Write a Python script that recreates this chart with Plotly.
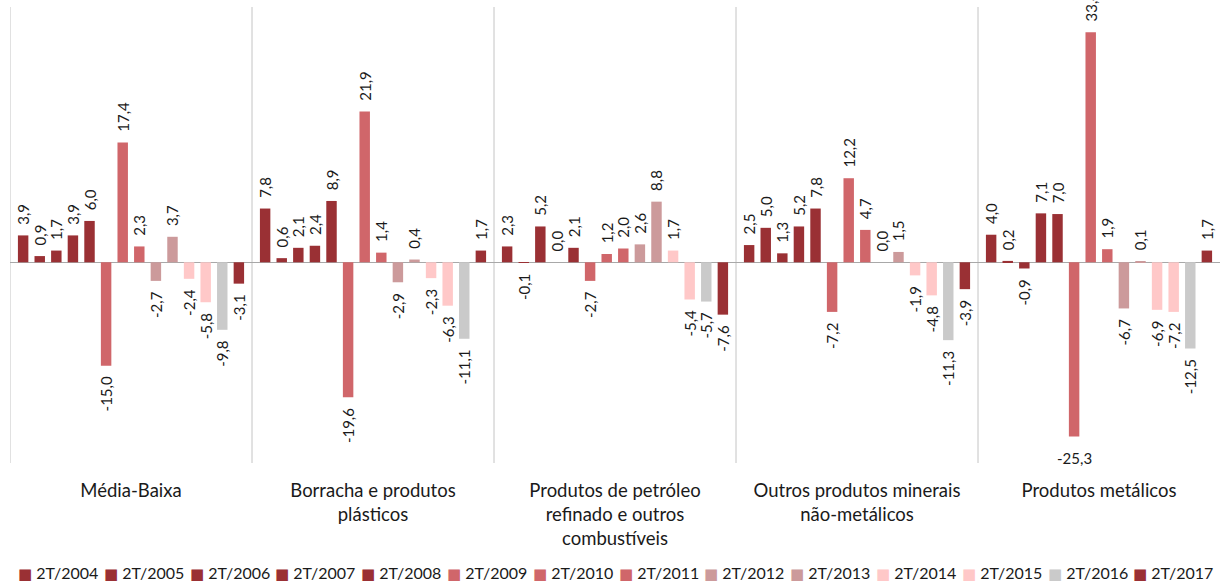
import plotly.graph_objects as go

# Sectors (category axis)
categories = [
    "Média-Baixa",
    "Borracha e produtos<br>plásticos",
    "Produtos de petróleo<br>refinado e outros<br>combustíveis",
    "Outros produtos minerais<br>não-metálicos",
    "Produtos metálicos",
]

# Periods (one series per period)
periods = ["2T/2004", "2T/2005", "2T/2006", "2T/2007", "2T/2008", "2T/2009", "2T/2010",
           "2T/2011", "2T/2012", "2T/2013", "2T/2014", "2T/2015", "2T/2016", "2T/2017"]

# Variation (%) per sector, one list per period
v2004 = [3.9, 7.8, 2.3, 2.5, 4.0]
v2005 = [0.9, 0.6, -0.1, 5.0, 0.2]
v2006 = [1.7, 2.1, 5.2, 1.3, -0.9]
v2007 = [3.9, 2.4, 0.0, 5.2, 7.1]
v2008 = [6.0, 8.9, 2.1, 7.8, 7.0]
v2009 = [-15.0, -19.6, -2.7, -7.2, -25.3]
v2010 = [17.4, 21.9, 1.2, 12.2, 33.4]
v2011 = [2.3, 1.4, 2.0, 4.7, 1.9]
v2012 = [-2.7, -2.9, 2.6, 0.0, -6.7]
v2013 = [3.7, 0.4, 8.8, 1.5, 0.1]
v2014 = [-2.4, -2.3, 1.7, -1.9, -6.9]
v2015 = [-5.8, -6.3, -5.4, -4.8, -7.2]
v2016 = [-9.8, -11.1, -5.7, -11.3, -12.5]
v2017 = [-3.1, 1.7, -7.6, -3.9, 1.7]

series = [v2004, v2005, v2006, v2007, v2008, v2009, v2010,
          v2011, v2012, v2013, v2014, v2015, v2016, v2017]

DARK = "#9A3034"
MID = "#D0666A"
ROSE = "#CC9A9B"
PINK = "#FFC8C8"
GREY = "#CACACA"
colors = [DARK, DARK, DARK, DARK, DARK, MID, MID, MID, ROSE, ROSE, PINK, PINK, GREY, DARK]

FONT = "Lato, 'Open Sans', sans-serif"
TEXT = "#1a1a1a"
NB = "\u00a0\u00a0"

# plot-area geometry (pixels)
W, H = 1223, 585
ML, MR, MT, MB = 10, 3, 7, 122
PW = W - ML - MR
PH = H - MT - MB


def fmt(v):
    return f"{v:.1f}".replace(".", ",")


def label(v):
    # pad the side that faces the bar end so the label sits a little off the bar
    return NB + fmt(v) if v >= 0 else fmt(v) + NB


fig = go.Figure()

# the deepest drop is labelled horizontally beneath its bar
special = (5, 4)

for si, (name, vals, col) in enumerate(zip(periods, series, colors)):
    texts = []
    for ci, v in enumerate(vals):
        texts.append("" if (si, ci) == special else label(v))
    fig.add_trace(go.Bar(
        name=name,
        x=categories,
        y=vals,
        marker=dict(color=col, line=dict(width=0)),
        text=texts,
        textposition="outside",
        textangle=-90,
        constraintext="none",
        cliponaxis=False,
        textfont=dict(family=FONT, size=15, color=TEXT),
        hoverinfo="skip",
        showlegend=False,
    ))

# horizontal label for the deepest bar
n_series = len(periods)
cat_px = PW / len(categories)
slot_px = cat_px * (1 - 0.04) / n_series
sv = series[special[0]][special[1]]
fig.add_annotation(
    x=categories[special[1]], y=sv, xref="x", yref="y",
    text=fmt(sv), showarrow=False,
    xshift=(special[0] - (n_series - 1) / 2) * slot_px,
    yanchor="top", yshift=-10,
    font=dict(family=FONT, size=15, color=TEXT),
)

# sector separators
for b in range(len(categories)):
    fig.add_shape(type="line", xref="x", yref="paper",
                  x0=b - 0.5, x1=b - 0.5, y0=0, y1=1,
                  line=dict(color="#C4C4C4", width=1), layer="below")

# compact one-row legend along the bottom
leg_x0, leg_pitch, leg_y = 16, 85.8, 573
for i, (name, col) in enumerate(zip(periods, colors)):
    fig.add_annotation(
        xref="paper", yref="paper",
        x=(leg_x0 + i * leg_pitch - ML) / PW,
        y=(H - MB - leg_y) / PH,
        xanchor="left", yanchor="middle", showarrow=False,
        text=f"<span style='color:{col};font-family:DejaVu Sans;font-size:15px'>■</span> {name}",
        font=dict(family=FONT, size=16, color=TEXT),
    )

fig.update_layout(
    width=W, height=H,
    margin=dict(l=ML, r=MR, t=MT, b=MB),
    paper_bgcolor="white", plot_bgcolor="white",
    barmode="group", bargap=0.04, bargroupgap=0.37,
    font=dict(family=FONT, color=TEXT),
    showlegend=False,
)

fig.update_xaxes(
    type="category", range=[-0.5, len(categories) - 0.5],
    showgrid=False, showline=False, ticks="",
    tickfont=dict(family=FONT, size=18.5, color=TEXT),
    ticklabelstandoff=14, fixedrange=True,
)
fig.update_yaxes(
    range=[-29.13, 37.05], showgrid=False, showticklabels=False, ticks="",
    zeroline=True, zerolinecolor="#A8A8A8", zerolinewidth=1,
    showline=False, fixedrange=True,
)

fig.write_html("out.html", config={"displayModeBar": False})
